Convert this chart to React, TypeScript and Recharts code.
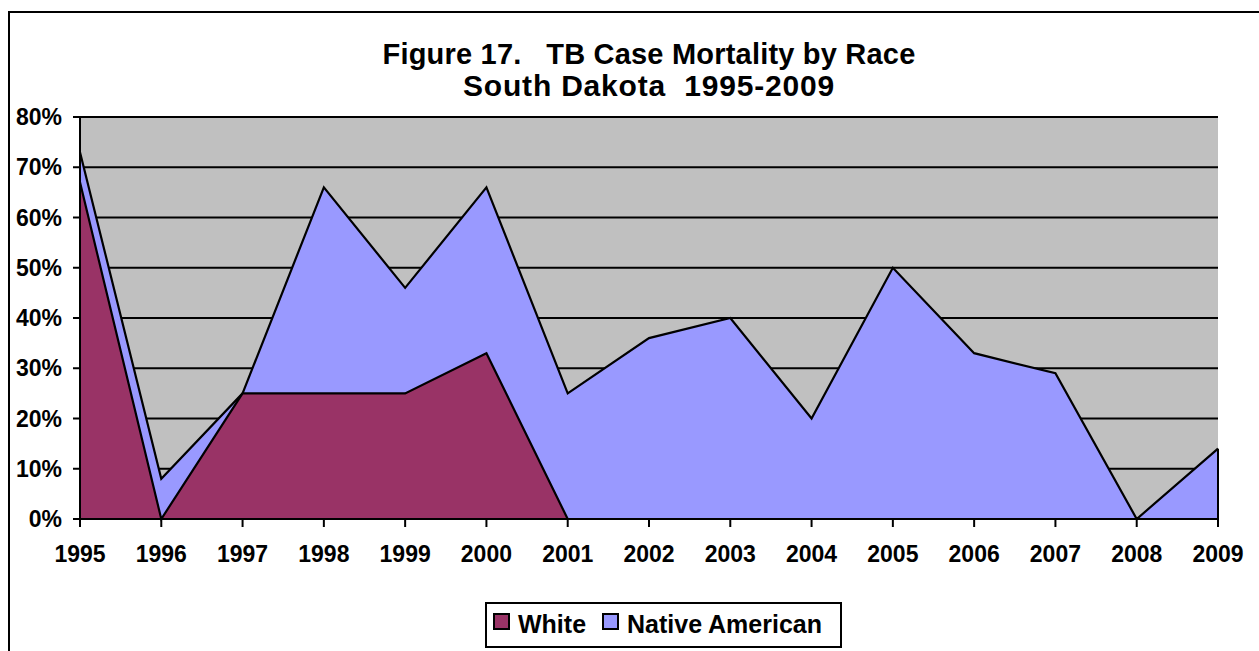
import React from "react";
import {
  AreaChart,
  Area,
  XAxis,
  YAxis,
  CartesianGrid,
  ReferenceLine,
} from "recharts";

const years = ["1995","1996","1997","1998","1999","2000","2001","2002","2003","2004","2005","2006","2007","2008","2009"];
const white: (number | null)[] = [67, 0, 25, 25, 25, 33, 0, null, null, null, null, null, null, null, null];
const nativeAmerican: number[] = [73, 8, 25, 66, 46, 66, 25, 36, 40, 20, 50, 33, 29, 0, 14];
const yTicks = [0, 10, 20, 30, 40, 50, 60, 70, 80];
const titleLines = ["Figure 17.   TB Case Mortality by Race", "South Dakota  1995-2009"];
const seriesNames = ["White", "Native American"];
const colors = { white: "#993366", native: "#9999FF", bg: "#C0C0C0" };

const data = years.map((y, i) => ({ year: y, white: white[i], native: nativeAmerican[i] }));

const FONT = '"Liberation Sans", Arial, sans-serif';

export default function App() {
  return (
    <div style={{ position: "relative", width: 1259, height: 651, overflow: "hidden", fontFamily: FONT }}>
      <style>{"body{margin:0;overflow:hidden;}"}</style>
      <div
        style={{
          position: "absolute",
          left: 8,
          top: 11,
          width: 1400,
          height: 800,
          borderTop: "2px solid #000",
          borderLeft: "2px solid #000",
          boxSizing: "border-box",
        }}
      />
      <div
        style={{
          position: "absolute",
          left: 149,
          top: 38,
          width: 1000,
          textAlign: "center",
          fontWeight: "bold",
          fontSize: 29,
          lineHeight: "32px",
          whiteSpace: "pre",
          color: "#000",
        }}
      >
        {titleLines.map((t, i) => (
          <div key={t} style={{ fontSize: i === 1 ? 30 : 29, letterSpacing: i === 1 ? "0.8px" : "0.2px" }}>{t}</div>
        ))}
      </div>
      <div style={{ position: "absolute", left: 0, top: 0 }}>
        <AreaChart
          width={1259}
          height={651}
          data={data}
          margin={{ top: 117, right: 41, left: 0, bottom: 92 }}
        >
          <CartesianGrid vertical={false} stroke="#000" strokeWidth={2} fill={colors.bg} fillOpacity={1} />
          <XAxis
            dataKey="year"
            axisLine={{ stroke: "#000", strokeWidth: 2 }}
            tickLine={{ stroke: "#000", strokeWidth: 2 }}
            tickSize={8}
            tickMargin={19}
            height={40}
            interval={0}
            tick={{ fill: "#000", fontSize: 23, fontWeight: "bold", fontFamily: FONT }}
          />
          <YAxis
            domain={[0, 80]}
            ticks={yTicks}
            tickFormatter={(v) => `${v}%`}
            axisLine={{ stroke: "#000", strokeWidth: 2 }}
            tickLine={{ stroke: "#000", strokeWidth: 2 }}
            tickSize={7}
            tickMargin={11}
            width={80}
            interval={0}
            tick={{ fill: "#000", fontSize: 23, fontWeight: "bold", fontFamily: FONT }}
          />
          <Area
            type="linear"
            dataKey="native"
            name={seriesNames[1]}
            stroke="#000"
            strokeWidth={2.2}
            fill={colors.native}
            fillOpacity={1}
            isAnimationActive={false}
            dot={false}
            activeDot={false}
          />
          <Area
            type="linear"
            dataKey="white"
            name={seriesNames[0]}
            stroke="#000"
            strokeWidth={2.2}
            fill={colors.white}
            fillOpacity={1}
            isAnimationActive={false}
            dot={false}
            activeDot={false}
          />
          <ReferenceLine
            segment={[
              { x: years[years.length - 1], y: 0 },
              { x: years[years.length - 1], y: nativeAmerican[nativeAmerican.length - 1] },
            ]}
            stroke="#000"
            strokeWidth={2}
            ifOverflow="visible"
          />
        </AreaChart>
      </div>
      <div
        style={{
          position: "absolute",
          left: 485,
          top: 602,
          width: 357,
          height: 46,
          border: "2px solid #000",
          boxSizing: "border-box",
          background: "#fff",
        }}
      >
        {[
          { name: seriesNames[0], color: colors.white, sx: 6, tx: 31 },
          { name: seriesNames[1], color: colors.native, sx: 115, tx: 140 },
        ].map((s) => (
          <React.Fragment key={s.name}>
            <div
              style={{
                position: "absolute",
                left: s.sx,
                top: 9,
                width: 17,
                height: 17,
                background: s.color,
                border: "2px solid #000",
                boxSizing: "border-box",
              }}
            />
            <div
              style={{
                position: "absolute",
                left: s.tx,
                top: 6,
                fontSize: 25,
                lineHeight: "28px",
                fontWeight: "bold",
                whiteSpace: "pre",
                color: "#000",
              }}
            >
              {s.name}
            </div>
          </React.Fragment>
        ))}
      </div>
    </div>
  );
}
